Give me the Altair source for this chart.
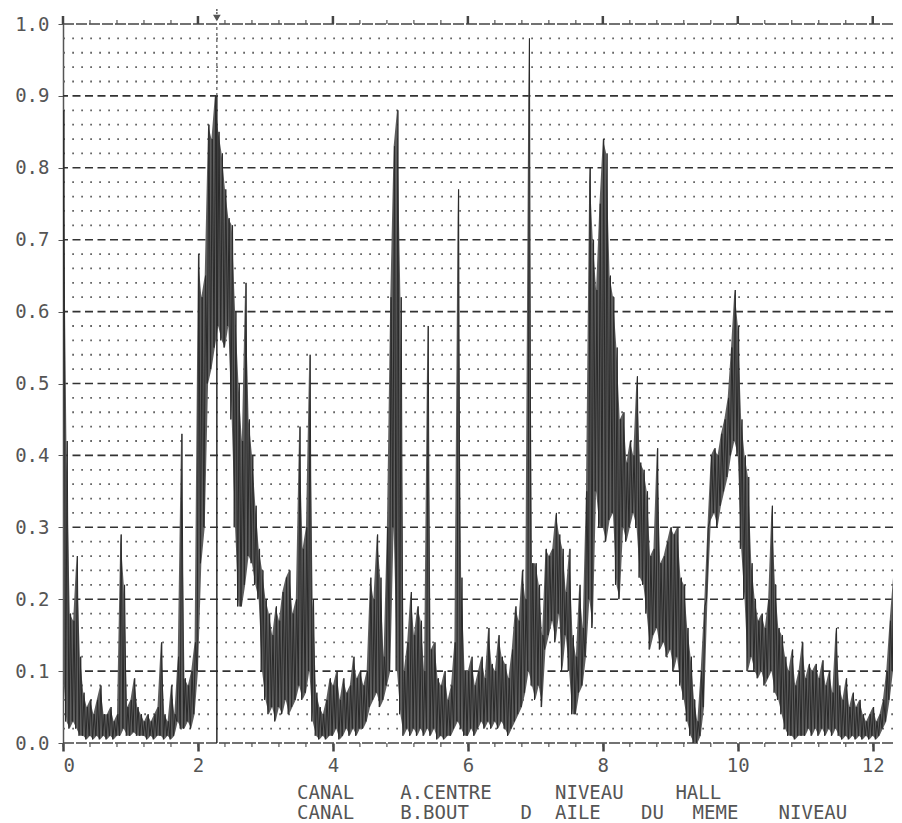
import re
import altair as alt
import numpy as np
import pandas as pd

# ---------------- data ----------------
X_STEP = 0.05  # spacing of the envelope samples along x

# upper envelope of the trace, x = 0.00, 0.05, ... 12.30
hi = [
    0.88, 0.42, 0.18, 0.17, 0.26, 0.12, 0.07, 0.05, 0.06, 0.04, 0.06, 0.08, 0.04, 0.04, 0.05, 0.03, 0.04, 0.29, 0.22, 0.05,
    0.06, 0.09, 0.05, 0.04, 0.03, 0.04, 0.03, 0.04, 0.05, 0.14, 0.04, 0.03, 0.08, 0.04, 0.12, 0.43, 0.09, 0.08, 0.10, 0.14,
    0.68, 0.62, 0.65, 0.86, 0.84, 0.90, 0.85, 0.82, 0.77, 0.73, 0.72, 0.60, 0.50, 0.42, 0.64, 0.45, 0.40, 0.33, 0.27, 0.24,
    0.20, 0.18, 0.15, 0.19, 0.17, 0.21, 0.23, 0.24, 0.18, 0.20, 0.44, 0.27, 0.30, 0.54, 0.20, 0.07, 0.05, 0.04, 0.06, 0.09,
    0.08, 0.10, 0.06, 0.09, 0.07, 0.08, 0.12, 0.09, 0.10, 0.08, 0.10, 0.23, 0.20, 0.29, 0.23, 0.12, 0.30, 0.62, 0.83, 0.88,
    0.62, 0.10, 0.14, 0.21, 0.15, 0.19, 0.17, 0.10, 0.58, 0.13, 0.14, 0.09, 0.08, 0.10, 0.06, 0.08, 0.14, 0.77, 0.23, 0.10,
    0.10, 0.12, 0.08, 0.10, 0.12, 0.09, 0.16, 0.11, 0.10, 0.15, 0.12, 0.11, 0.09, 0.13, 0.19, 0.17, 0.24, 0.20, 0.98, 0.25,
    0.25, 0.22, 0.15, 0.27, 0.26, 0.27, 0.32, 0.29, 0.27, 0.21, 0.27, 0.15, 0.12, 0.22, 0.16, 0.35, 0.80, 0.70, 0.63, 0.75,
    0.84, 0.82, 0.65, 0.62, 0.55, 0.45, 0.46, 0.39, 0.42, 0.40, 0.51, 0.39, 0.38, 0.35, 0.26, 0.27, 0.41, 0.25, 0.26, 0.28,
    0.30, 0.29, 0.30, 0.23, 0.22, 0.16, 0.12, 0.06, 0.03, 0.10, 0.19, 0.30, 0.40, 0.41, 0.40, 0.43, 0.45, 0.48, 0.55, 0.63,
    0.58, 0.45, 0.40, 0.37, 0.25, 0.20, 0.17, 0.18, 0.16, 0.20, 0.33, 0.22, 0.16, 0.15, 0.12, 0.10, 0.13, 0.08, 0.10, 0.14,
    0.09, 0.11, 0.10, 0.11, 0.09, 0.115, 0.08, 0.10, 0.07, 0.16, 0.08, 0.06, 0.09, 0.05, 0.07, 0.05, 0.06, 0.04, 0.03, 0.04,
    0.05, 0.03, 0.04, 0.06, 0.10, 0.17, 0.23,
]

# lower envelope of the trace
lo = [
    0.10, 0.03, 0.02, 0.03, 0.02, 0.01, 0.01, 0.005, 0.01, 0.005, 0.01, 0.005, 0.01, 0.005, 0.01, 0.005, 0.01, 0.01, 0.02, 0.01,
    0.01, 0.015, 0.01, 0.01, 0.01, 0.005, 0.01, 0.005, 0.01, 0.01, 0.005, 0.01, 0.005, 0.01, 0.03, 0.02, 0.02, 0.03, 0.02, 0.04,
    0.10, 0.25, 0.30, 0.50, 0.52, 0.55, 0.58, 0.56, 0.55, 0.58, 0.45, 0.30, 0.19, 0.19, 0.22, 0.26, 0.25, 0.22, 0.20, 0.10,
    0.06, 0.04, 0.05, 0.03, 0.05, 0.04, 0.06, 0.04, 0.05, 0.06, 0.08, 0.06, 0.07, 0.10, 0.03, 0.01, 0.005, 0.01, 0.005, 0.01,
    0.01, 0.02, 0.005, 0.01, 0.02, 0.01, 0.02, 0.01, 0.02, 0.02, 0.03, 0.05, 0.06, 0.07, 0.05, 0.06, 0.08, 0.10, 0.30, 0.10,
    0.04, 0.01, 0.02, 0.01, 0.02, 0.01, 0.02, 0.01, 0.02, 0.01, 0.02, 0.005, 0.01, 0.005, 0.01, 0.01, 0.02, 0.03, 0.02, 0.01,
    0.01, 0.02, 0.01, 0.02, 0.03, 0.02, 0.03, 0.02, 0.03, 0.02, 0.03, 0.02, 0.01, 0.02, 0.03, 0.04, 0.05, 0.07, 0.10, 0.08,
    0.06, 0.08, 0.05, 0.13, 0.15, 0.17, 0.14, 0.18, 0.10, 0.15, 0.10, 0.04, 0.04, 0.07, 0.08, 0.12, 0.20, 0.16, 0.35, 0.30,
    0.30, 0.28, 0.31, 0.32, 0.22, 0.20, 0.30, 0.28, 0.30, 0.32, 0.30, 0.23, 0.22, 0.18, 0.13, 0.15, 0.16, 0.13, 0.14, 0.12,
    0.13, 0.10, 0.12, 0.08, 0.06, 0.03, 0.01, 0.0, 0.0, 0.01, 0.05, 0.20, 0.31, 0.32, 0.30, 0.33, 0.35, 0.37, 0.40, 0.42,
    0.40, 0.27, 0.20, 0.10, 0.12, 0.10, 0.09, 0.10, 0.08, 0.09, 0.10, 0.07, 0.06, 0.04, 0.02, 0.01, 0.01, 0.005, 0.01, 0.01,
    0.01, 0.02, 0.01, 0.02, 0.01, 0.02, 0.01, 0.02, 0.01, 0.02, 0.01, 0.005, 0.01, 0.005, 0.01, 0.005, 0.01, 0.005, 0.01, 0.005,
    0.01, 0.005, 0.01, 0.02, 0.03, 0.06, 0.10,
]

x_labels = [0, 2, 4, 6, 8, 10, 12]
y_labels = [0.0, 0.1, 0.2, 0.3, 0.4, 0.5, 0.6, 0.7, 0.8, 0.9, 1.0]
major_rows = [0.1, 0.2, 0.3, 0.4, 0.5, 0.6, 0.7, 0.8, 0.9]
frame_rows = [0.0, 1.0]
minor_x_ticks = [round(0.4 * k, 2) for k in range(31)]
marker_x = [2.28]
marker_peak = [0.90]
line_a = "CANAL A.CENTRE NIVEAU HALL"
line_b = "CANAL B.BOUT D AILE DU MEME NIVEAU"

# ---------------- layout ----------------
W, H = 830, 719
XMAX = 12.3
MONO = "DejaVu Sans Mono"
INK = "#2a2a2a"
TXT = "#555555"

xs = np.round(np.arange(len(hi)) * X_STEP, 3)
env = pd.DataFrame({"x": xs, "lo": lo, "hi": hi})

zx, zy = [], []
for xi, l, h in zip(xs, lo, hi):
    zx += [xi - 0.0125, xi + 0.0125]
    zy += [l, h]
zig = pd.DataFrame({"x": zx, "y": zy})

dot_rows = [round(0.02 * k, 2) for k in range(1, 50) if k % 5]

xscale = alt.Scale(domain=[0, XMAX], nice=False, zero=False)
yscale = alt.Scale(domain=[0, 1], nice=False, zero=False)

xaxis = alt.Axis(values=x_labels, format="d", title=None, grid=False, domain=False,
                 ticks=True, tickSize=8, tickWidth=2.5, tickColor="#444",
                 labelFont=MONO, labelFontSize=19, labelColor=TXT, labelPadding=5)
yaxis = alt.Axis(values=y_labels, format=".1f", title=None, grid=False, domain=True,
                 domainColor="#555", domainWidth=1.5, tickSize=5, tickColor="#555",
                 labelFont=MONO, labelFontSize=19, labelColor=TXT, labelPadding=9)


def X(field):
    return alt.X(field, type="quantitative", scale=xscale, axis=xaxis)


def Y(field):
    return alt.Y(field, type="quantitative", scale=yscale, axis=yaxis)


dots = alt.Chart(pd.DataFrame({"y": dot_rows})).mark_rule(
    color="#666", strokeWidth=1.8, strokeDash=[1.8, 7.2]
).encode(y=Y("y"))

majors = alt.Chart(pd.DataFrame({"y": major_rows})).mark_rule(
    color="#333", strokeWidth=1.6, strokeDash=[8, 4.5]
).encode(y=Y("y"))

frame = alt.Chart(pd.DataFrame({"y": frame_rows})).mark_rule(
    color="#444", strokeWidth=1.6, strokeDash=[11, 2]
).encode(y=Y("y"))

area = alt.Chart(env).mark_area(color="#5e5e5e", clip=True).encode(
    x=X("x"), y=Y("lo"), y2="hi:Q",
)

trace = alt.Chart(zig).mark_line(color=INK, strokeWidth=1.0, clip=True).encode(
    x=X("x"), y=Y("y"),
)

marker_df = pd.DataFrame({"x": marker_x, "y0": [0.0], "y1": marker_peak, "y2": [1.0]})
marker_solid = alt.Chart(marker_df).mark_rule(color=INK, strokeWidth=1.5).encode(
    x=X("x"), y=Y("y0"), y2="y1:Q")
marker_dash = alt.Chart(marker_df).mark_rule(color="#555", strokeWidth=1.2, strokeDash=[3, 3]).encode(
    x=X("x"), y=Y("y1"), y2="y2:Q")
marker_stem = alt.Chart(marker_df).mark_rule(color="#555", strokeWidth=1.4, strokeDash=[2, 1]).encode(
    x=X("x"), y=alt.value(-15), y2=alt.value(-3))
marker_head = alt.Chart(marker_df).mark_point(
    shape="triangle-down", filled=True, color="#555", size=60, opacity=1
).encode(x=X("x"), y=alt.value(-6))

tick_df = pd.DataFrame({"x": minor_x_ticks})
big_df = pd.DataFrame({"x": x_labels})
top_minor = alt.Chart(tick_df).mark_rule(color="#555", strokeWidth=1.2).encode(
    x=X("x"), y=alt.value(0), y2=alt.value(-4))
top_big = alt.Chart(big_df).mark_rule(color="#444", strokeWidth=2.5).encode(
    x=X("x"), y=alt.value(0), y2=alt.value(-8))
bot_minor = alt.Chart(tick_df).mark_rule(color="#555", strokeWidth=1.2).encode(
    x=X("x"), y=alt.value(H), y2=alt.value(H + 4))

# caption words on a fixed character grid
CELL = 17.2
TEXT_LEFT = 234
rows = []
for line, py in ((line_a, H + 50), (line_b, H + 70)):
    for m in re.finditer(r"\S+", line):
        rows.append({"word": m.group(0), "px": TEXT_LEFT + m.start() * CELL, "py": py})
caption = alt.Chart(pd.DataFrame(rows)).mark_text(
    align="left", baseline="middle", font=MONO, fontSize=19, color=TXT
).encode(
    x=alt.X("px:Q", scale=None, axis=None),
    y=alt.Y("py:Q", scale=None, axis=None),
    text="word:N",
)

chart = alt.layer(
    dots, majors, frame, area, trace,
    marker_solid, marker_dash, marker_stem, marker_head,
    top_minor, top_big, bot_minor, caption,
).properties(
    width=W, height=H,
    autosize=alt.AutoSizeParams(type="none"),
    padding={"left": 55, "top": 16, "right": 0, "bottom": 80},
    background="white",
).configure_view(stroke=None)

chart.save("out.html", embed_options={"renderer": "svg", "actions": False})
